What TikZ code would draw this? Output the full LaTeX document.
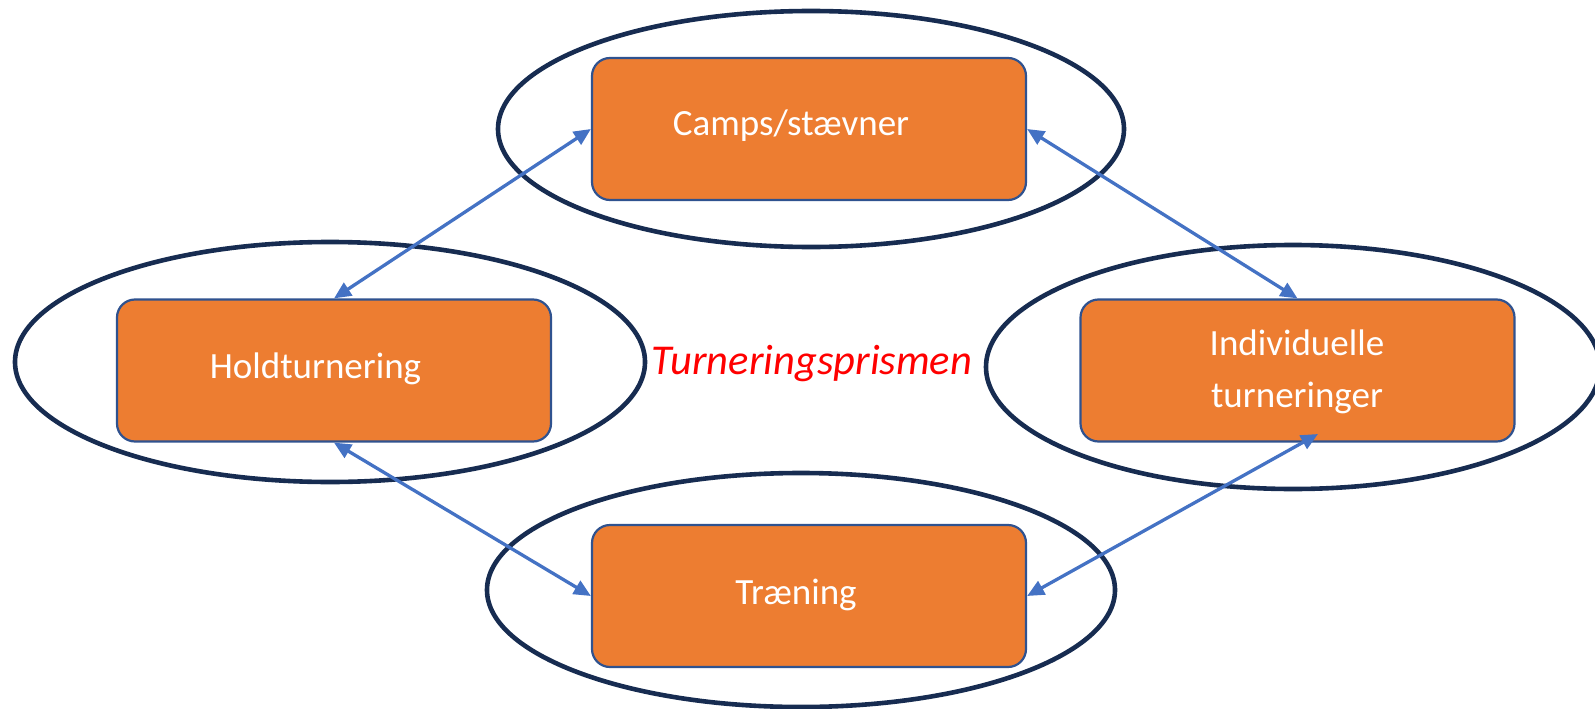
\documentclass[tikz,border=0pt]{standalone}
\usepackage{fontspec}
\setmainfont{Carlito}
\usetikzlibrary{arrows.meta}
\definecolor{boxorange}{HTML}{ED7D31}
\definecolor{boxedge}{HTML}{2F528F}
\definecolor{arrowblue}{HTML}{4472C4}
\definecolor{ringnavy}{HTML}{172C51}
\definecolor{titlered}{HTML}{FF0000}
\tikzset{
  ring/.style={draw=ringnavy, line width=4.6pt},
  stagebox/.style={draw=boxedge, line width=2.2pt, fill=boxorange, rounded corners=18pt,
    minimum width=434pt, minimum height=142pt, inner sep=0pt},
  stagetext/.style={text=white, font=\fontsize{37}{52}\selectfont, align=center, inner sep=0pt},
  link/.style={draw=arrowblue, line width=3.3pt, {Triangle[length=17pt,width=15pt]}-{Triangle[length=17pt,width=15pt]}, shorten <=0pt, shorten >=0pt},
}
\begin{document}
\begin{tikzpicture}[x=1pt,y=-1pt]
\useasboundingbox (0,0) rectangle (1595,709);
% rings
\draw[ring] (811,129) ellipse [x radius=313, y radius=118];
\draw[ring] (330,362) ellipse [x radius=315, y radius=120];
\draw[ring] (1293,367) ellipse [x radius=307, y radius=122];
\draw[ring] (801,590) ellipse [x radius=314, y radius=117];
% boxes
\node[stagebox] (top) at (809,129) {};
\node[stagebox] (left) at (334,370.5) {};
\node[stagebox] (right) at (1297.5,370.5) {};
\node[stagebox] (bottom) at (809,596) {};
% texts
\node[stagetext] (toptext) at (791,126) {Camps/stævner};
\node[stagetext] (lefttext) at (315.5,369) {Holdturnering};
\node[stagetext] (righttext) at (1297,372) {Individuelle\\turneringer};
\node[stagetext] (bottomtext) at (796,595) {Træning};
\node[text=titlered, font=\fontsize{42.5}{50}\selectfont\itshape, inner sep=0pt] (title) at (812,364) {Turneringsprismen};
% links
\coordinate (brstart) at (1318,434);
\draw[link] (top.west) -- (left.north);
\draw[link] (top.east) -- (right.north);
\draw[link] (left.south) -- (bottom.west);
\draw[link] (brstart) -- (bottom.east);
\end{tikzpicture}
\end{document}
